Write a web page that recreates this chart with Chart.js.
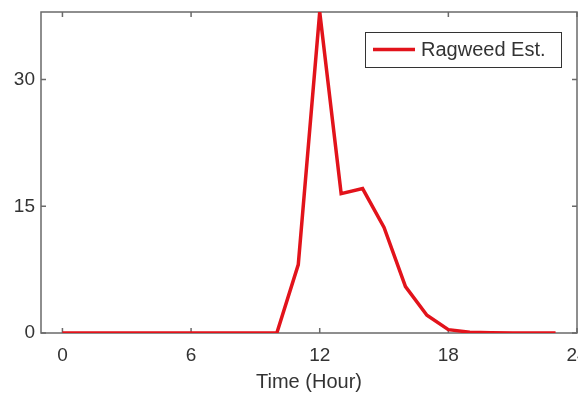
<!DOCTYPE html>
<html>
<head>
<meta charset="utf-8">
<script src="https://cdn.jsdelivr.net/npm/chart.js@4"></script>
<style>
  html, body { margin: 0; padding: 0; background: #fff; overflow: hidden; }
  #wrap { width: 578px; height: 395px; overflow: hidden; }
</style>
</head>
<body>
<div id="wrap"><canvas id="myChart" width="600" height="395"></canvas></div>
<script>
// data
const hours = [0, 1, 2, 3, 4, 5, 6, 7, 8, 9, 10, 11, 12, 13, 14, 15, 16, 17, 18, 19, 20, 21, 22, 23];
const ragweed = [0, 0, 0, 0, 0, 0, 0, 0, 0, 0, 0, 8.1, 38, 16.5, 17.1, 12.5, 5.5, 2.1, 0.4, 0.1, 0.03, 0.01, 0, 0];
const xTicks = [0, 6, 12, 18, 24];
const yTicks = [0, 15, 30];

const textColor = '#333333';
const axisColor = '#6a6a6a';
const lineColor = '#e2131b';
const fontFamily = '"Liberation Sans", Arial, Helvetica, sans-serif';

// MATLAB-style box with inward ticks on all four sides
const boxPlugin = {
    id: 'boxPlugin',
    beforeDatasetsDraw(chart) {
        const { ctx, chartArea: a, scales } = chart;
        const len = 5;
        ctx.save();
        ctx.strokeStyle = axisColor;
        ctx.lineWidth = 1.5;
        ctx.strokeRect(a.left, a.top, a.right - a.left, a.bottom - a.top);
        ctx.beginPath();
        xTicks.forEach(v => {
            const px = scales.x.getPixelForValue(v);
            ctx.moveTo(px, a.bottom); ctx.lineTo(px, a.bottom - len);
            ctx.moveTo(px, a.top); ctx.lineTo(px, a.top + len);
        });
        yTicks.forEach(v => {
            const py = scales.y.getPixelForValue(v);
            ctx.moveTo(a.left, py); ctx.lineTo(a.left + len, py);
            ctx.moveTo(a.right, py); ctx.lineTo(a.right - len, py);
        });
        ctx.stroke();
        ctx.restore();
    },
    afterDraw(chart) {
        // legend box in the upper right of the axes
        const { ctx, chartArea: a } = chart;
        const ds = chart.data.datasets[0];
        const w = 196, h = 35;
        const x0 = a.right - 16 - w, y0 = a.top + 20;
        ctx.save();
        ctx.fillStyle = '#fff';
        ctx.fillRect(x0, y0, w, h);
        ctx.strokeStyle = '#333';
        ctx.lineWidth = 1;
        ctx.strokeRect(x0 + 0.5, y0 + 0.5, w, h);
        const cy = y0 + h / 2;
        ctx.strokeStyle = ds.borderColor;
        ctx.lineWidth = ds.borderWidth;
        ctx.beginPath();
        ctx.moveTo(x0 + 8, cy);
        ctx.lineTo(x0 + 50, cy);
        ctx.stroke();
        ctx.fillStyle = textColor;
        ctx.font = '20px ' + fontFamily;
        ctx.textBaseline = 'middle';
        ctx.fillText(ds.label, x0 + 56, cy + 1);
        ctx.restore();
    }
};

const ctx = document.getElementById('myChart').getContext('2d');

const myChart = new Chart(ctx, {
    type: 'line',
    data: {
        datasets: [{
            label: 'Ragweed Est.',
            data: hours.map((h, i) => ({ x: h, y: ragweed[i] })),
            borderColor: lineColor,
            backgroundColor: lineColor,
            borderWidth: 3.5,
            pointRadius: 0,
            tension: 0,
            fill: false,
        }]
    },
    options: {
        responsive: false,
        animation: false,
        layout: {
            padding: { top: 12, right: 23, left: 0, bottom: 0 }
        },
        scales: {
            x: {
                type: 'linear',
                min: -1,
                max: 24,
                afterBuildTicks: scale => { scale.ticks = xTicks.map(v => ({ value: v })); },
                afterFit: scale => { scale.height = 62; },
                grid: { display: false, drawTicks: false },
                border: { display: false },
                ticks: {
                    color: textColor,
                    padding: 11,
                    maxRotation: 0,
                    font: { size: 19, family: fontFamily }
                },
                title: {
                    display: true,
                    text: 'Time (Hour)',
                    color: textColor,
                    font: { size: 20, family: fontFamily },
                    padding: { top: 0, bottom: 1 }
                }
            },
            y: {
                min: 0,
                max: 38,
                afterBuildTicks: scale => { scale.ticks = yTicks.map(v => ({ value: v })); },
                afterFit: scale => {
                    scale.width = 41;
                    scale.paddingTop = 0;
                    scale.paddingBottom = 0;
                },
                grid: { display: false, drawTicks: false },
                border: { display: false },
                ticks: {
                    color: textColor,
                    padding: 6,
                    font: { size: 19, family: fontFamily }
                }
            }
        },
        plugins: {
            legend: { display: false },
            tooltip: { enabled: false }
        }
    },
    plugins: [boxPlugin]
});
</script>
</body>
</html>
